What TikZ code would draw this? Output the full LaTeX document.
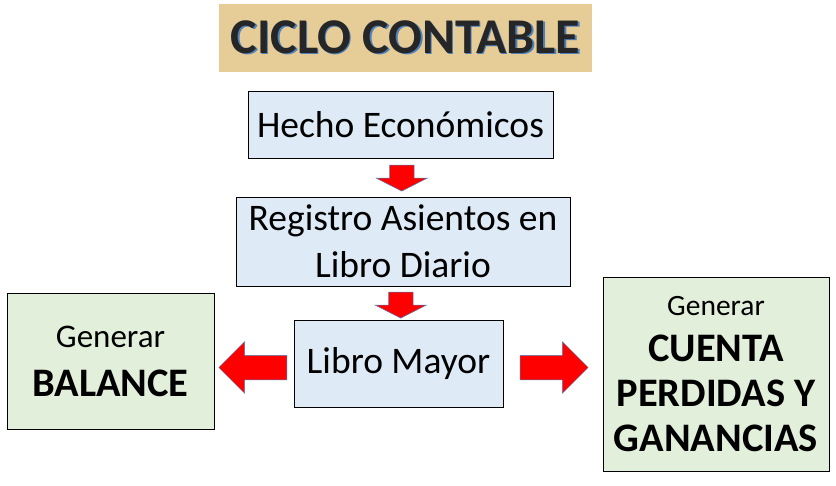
\documentclass[tikz,border=0pt]{standalone}
\usepackage{fontspec}
\setmainfont{Carlito}
\usetikzlibrary{calc,positioning,shapes.arrows}
\definecolor{papiro}{RGB}{230,204,150}
\definecolor{azulcaja}{RGB}{222,235,247}
\definecolor{verdecaja}{RGB}{226,239,218}
\definecolor{bordeflecha}{RGB}{79,129,189}
\definecolor{tinta}{RGB}{38,38,38}
\tikzset{
  titulobox/.style={
    rectangle,
    fill=papiro,
    inner sep=0pt,
    minimum width=373pt,
    minimum height=68pt,
    text=tinta,
    font=\fontsize{50}{54}\selectfont\bfseries},
  pasobox/.style={
    rectangle,
    fill=azulcaja,
    draw=black, line width=0.9pt,
    inner sep=0pt,
    align=center,
    font=\fontsize{37.5}{47}\selectfont},
  generarbox/.style={
    rectangle,
    fill=verdecaja,
    draw=black, line width=0.9pt,
    inner sep=0pt,
    align=center,
    font=\fontsize{40.5}{45}\selectfont\bfseries},
  flecha/.style={
    single arrow,
    fill=red,
    draw=bordeflecha, line width=0.5pt,
    inner xsep=0pt, inner ysep=12pt,
    single arrow head extend=13.5pt,
    single arrow head indent=0pt},
  bajar/.style={flecha, minimum height=26pt, single arrow tip angle=126, rotate=-90},
  lado/.style={flecha, minimum height=68pt, single arrow tip angle=90},
}
\newcommand{\sombra}[1]{\rlap{\hspace{1.5pt}\raisebox{-1.5pt}{\textcolor{bordeflecha}{#1}}}#1}

\begin{document}
\begin{tikzpicture}
  [x=1pt, y=-1pt]
  \useasboundingbox (0,0) rectangle (836,485);
  %% titulo
  \node[titulobox] (titulo) at (405.5,38) {\sombra{CICLO CONTABLE}};
  %% columna central
  \node[pasobox, minimum width=305pt, minimum height=67pt] (hecho) at (400.5,124.5) {Hecho Económicos};
  \node[pasobox, minimum width=334pt, minimum height=89pt] (registro) at (403,241.5) {Registro Asientos en\\Libro Diario};
  \node[pasobox, minimum width=209pt, minimum height=87pt] (mayor) at (398.5,363.5) {Libro Mayor};
  %% cajas de salida
  \node[generarbox, minimum width=207pt, minimum height=136pt] (balance) at (110.5,361)
    {{\fontsize{33}{45}\selectfont\mdseries Generar}\\[4pt]BALANCE};
  \node[generarbox, minimum width=226pt, minimum height=194pt] (cuenta) at (716,374)
    {{\fontsize{29.5}{45}\selectfont\mdseries Generar}\\[1pt]CUENTA\\PERDIDAS Y\\GANANCIAS};
  %% flechas
  \node[bajar] (f1) at ($(hecho.south)!0.5!(registro.north)+(0,-2.5)$) {};
  \node[bajar] (f2) at ($(registro.south)!0.5!(mayor.north)+(0,-1)$) {};
  \node[lado, rotate=180] (f3) at ($(balance.east |- mayor.west)!0.5!(mayor.west)+(5,4)$) {};
  \node[lado] (f4) at ($(mayor.east)!0.5!(cuenta.west |- mayor.east)+(-5,4)$) {};
\end{tikzpicture}
\end{document}
